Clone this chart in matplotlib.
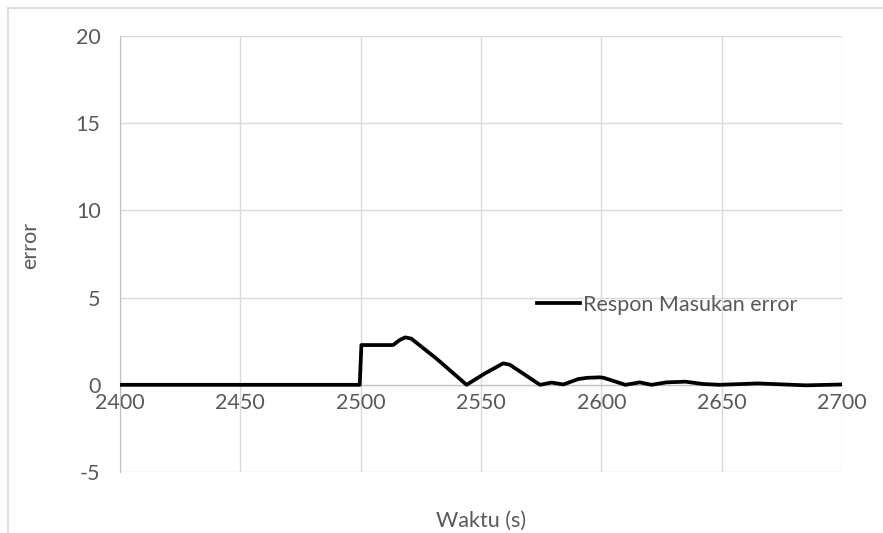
import matplotlib
matplotlib.use('Agg')
import matplotlib.pyplot as plt
from matplotlib.lines import Line2D

plt.rcParams['font.family'] = ['Lato', 'DejaVu Sans']
plt.rcParams['axes.unicode_minus'] = False

# waktu (s) dan error
waktu = [2400, 2499.6, 2500.3, 2513.5, 2516, 2518.5, 2521, 2531.5, 2544,
         2551.7, 2559.2, 2562, 2574.5, 2579.3, 2584.2, 2590.4, 2594, 2599.4,
         2601, 2610, 2616, 2620.8, 2627, 2635, 2642, 2649, 2665, 2685, 2700]
error = [0, 0, 2.28, 2.28, 2.55, 2.72, 2.65, 1.5, 0,
         0.66, 1.23, 1.15, 0, 0.13, 0.02, 0.33, 0.4, 0.43,
         0.4, 0.0, 0.14, 0.0, 0.14, 0.18, 0.05, 0, 0.08, -0.03, 0.02]

xticks = [2400, 2450, 2500, 2550, 2600, 2650, 2700]
yticks = [-5, 0, 5, 10, 15, 20]

teks = '#595959'
grid = '#d9d9d9'
fs = 15.5

fig = plt.figure(figsize=(8.83, 5.33), dpi=100)
ax = fig.add_axes([0.1359, 0.1144, 0.8177, 0.8181])

ax.plot(waktu, error, color='black', lw=2.7, solid_joinstyle='round',
        label='Respon Masukan error', zorder=3)

ax.set_xlim(2400, 2700)
ax.set_ylim(-5, 20)
ax.set_xticks(xticks)
ax.set_yticks(yticks)
ax.grid(True, color=grid, lw=1)
ax.set_axisbelow(True)

for s in ['top', 'right']:
    ax.spines[s].set_visible(False)
ax.spines['left'].set_color('#bfbfbf')
ax.spines['bottom'].set_color('#bfbfbf')
ax.spines['bottom'].set_position(('data', 0))

ax.tick_params(axis='both', length=0, labelsize=fs, labelcolor=teks)
ax.tick_params(axis='y', pad=14)
ax.tick_params(axis='x', pad=6)

fig.text(0.545, 0.012, 'Waktu (s)', fontsize=fs, color=teks, ha='center')
fig.text(0.034, 0.54, 'error', fontsize=fs, color=teks, rotation=90,
         ha='center', va='center')

leg = ax.legend(loc='center left', bbox_to_anchor=(0.608, 0.428),
                bbox_transform=fig.transFigure, frameon=False, fontsize=fs,
                borderpad=0, borderaxespad=0, handlelength=2.0,
                handletextpad=0.15)
for t in leg.get_texts():
    t.set_color(teks)

# garis tepi luar chart
fig.add_artist(Line2D([0.009, 0.009], [0, 0.985], color=grid, lw=1.2))
fig.add_artist(Line2D([0.009, 1], [0.985, 0.985], color=grid, lw=1.2))

fig.savefig('out.png', dpi=100)
